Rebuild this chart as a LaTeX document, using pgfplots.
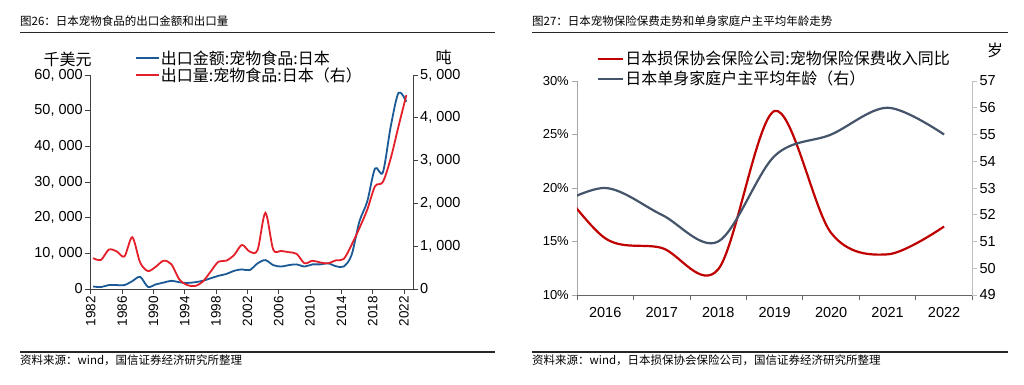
\documentclass[border=0pt]{standalone}
\usepackage{fontspec}
\setmainfont{Liberation Sans}
\newfontfamily\cjk{Noto Sans CJK SC}
\usepackage{pgfplots}
\usepackage{pgfplotstable}
\pgfplotsset{compat=1.18}
\definecolor{lblue}{HTML}{1B5A96}
\definecolor{lred}{HTML}{E3202A}
\definecolor{rred}{HTML}{C00000}
\definecolor{rgray}{HTML}{44546A}
\definecolor{laxis}{HTML}{404040}
\newcommand{\fs}[1]{\fontsize{#1}{#1}\selectfont}

\pgfplotstableread{
year amount volume
1982 700 720
1983 550 680
1984 1100 920
1985 1100 880
1986 1100 760
1987 2200 1210
1988 3400 620
1989 600 420
1990 1300 520
1991 1800 661
1992 2300 577
1993 1900 226
1994 1700 93
1995 1900 70
1996 2300 171
1997 3000 405
1998 3700 638
1999 4200 661
2000 5100 794
2001 5500 1030
2002 5300 872
2003 7200 910
2004 8100 1780
2005 6700 920
2006 6300 890
2007 6700 860
2008 6900 820
2009 6300 600
2010 6900 660
2011 6900 620
2012 7200 600
2013 6400 670
2014 6300 700
2015 9500 1030
2016 18900 1420
2017 24500 1850
2018 33800 2400
2019 32700 2500
2020 45500 3050
2021 55000 3800
2022 52500 4530
}\petfood

\pgfplotstableread{
x prem age
-0.5 21.5 52.2
0.5 15.3 53.0
1.5 14.4 52.0
2.5 12.4 51.0
3.5 27.2 54.2
4.5 15.8 55.0
5.5 13.8 56.0
6.5 16.4 55.0
}\insur

\begin{document}
\begin{tikzpicture}[x=1pt,y=1pt]
\useasboundingbox (0,0) rectangle (1024,384);
\fill[white] (0,0) rectangle (1024,384);

% ---------- headers and footers
\node[anchor=west,inner sep=0] at (20,362.5) {\cjk\fs{11.5}图26：日本宠物食品的出口金额和出口量};
\draw[line width=1.2pt, black!85] (20,351.5) -- (495,351.5);
\draw[line width=1.2pt, black!85] (20,32) -- (495,32);
\node[anchor=west,inner sep=0] at (20,24) {\cjk\fs{11.5}资料来源：wind，国信证券经济研究所整理};

\node[anchor=west,inner sep=0] at (532,362.5) {\cjk\fs{11.5}图27：日本宠物保险保费走势和单身家庭户主平均年龄走势};
\draw[line width=1.2pt, black!85] (532,351.5) -- (1008,351.5);
\draw[line width=1.2pt, black!85] (532,32) -- (1008,32);
\node[anchor=west,inner sep=0] at (532,24) {\cjk\fs{11.5}资料来源：wind，日本损保协会保险公司，国信证券经济研究所整理};

% unit labels
\node[inner sep=0] at (67.5,325) {\cjk\fs{16}千美元};
\node[inner sep=0] at (443.5,327) {\cjk\fs{16}吨};
\node[inner sep=0] at (995,334) {\cjk\fs{16}岁};

\pgfplotsset{
  common/.style={
    scale only axis, anchor=south west,
    /pgf/number format/assume math mode=true,
    /pgf/number format/1000 sep={},
    scaled x ticks=false, scaled y ticks=false,
    tick align=outside, major tick length=5pt,
    clip=true,
  }
}

% ---------- left panel, left axis
\begin{axis}[common,
  at={(90pt,95pt)}, width=323pt, height=214pt,
  xmin=1981.9, xmax=2023.15, ymin=0, ymax=60000,
  axis x line*=bottom, axis y line*=left,
  axis line style={-, draw=laxis, line width=0.9pt},
  tick style={draw=laxis, line width=0.9pt},
  xtick={1982,1986,...,2022}, xtick pos=left, ytick pos=left,
  xticklabel style={rotate=90, anchor=east, font=\fs{13.5}, inner sep=2pt},
  ytick={0,10000,...,60000},
  yticklabels={0,{10, 000},{20, 000},{30, 000},{40, 000},{50, 000},{60, 000}},
  yticklabel style={font=\fs{14.5}, inner sep=2pt},
]
\addplot[lblue, line width=1.8pt, smooth, tension=0.5] table[x expr=\thisrow{year}+0.3, y=amount] {\petfood};
\end{axis}

% ---------- left panel, right axis
\begin{axis}[common,
  at={(90pt,95pt)}, width=323pt, height=214pt,
  xmin=1981.9, xmax=2023.15, ymin=0, ymax=5000,
  axis x line=none, axis y line*=right,
  axis line style={-, draw=laxis, line width=0.9pt},
  tick style={draw=laxis, line width=0.9pt},
  ytick pos=right, yticklabel pos=right,
  ytick={0,1000,...,5000},
  yticklabels={0,{1, 000},{2, 000},{3, 000},{4, 000},{5, 000}},
  yticklabel style={font=\fs{14.5}, inner sep=2pt},
  legend style={at={(axis description cs:0.139,1.12)}, anchor=north west,
    draw=none, fill=none, inner sep=0pt, row sep=0pt,
    font=\cjk\fs{16}, nodes={inner sep=1pt}},
  legend cell align=left,
  legend image code/.code={\draw[#1] (0pt,0pt) -- (23pt,0pt);},
]
\addlegendimage{lblue, line width=1.8pt}
\addlegendentry{出口金额:宠物食品:日本}
\addplot[lred, line width=1.8pt, smooth, tension=0.5] table[x expr=\thisrow{year}+0.3, y=volume] {\petfood};
\addlegendentry{出口量:宠物食品:日本（右）}
\end{axis}

% ---------- right panel, left axis
\begin{axis}[common,
  at={(577pt,89pt)}, width=395.3pt, height=214pt,
  xmin=0, xmax=7, ymin=10, ymax=30,
  axis x line*=bottom, axis y line*=left,
  x axis line style={-, draw=black!60, line width=0.9pt},
  y axis line style={-, draw=black!35, line width=0.9pt},
  xtick style={draw=black!60, line width=0.9pt},
  ytick style={draw=black!35, line width=0.9pt},
  xtick={0,1,...,7}, xticklabels={2016,2017,2018,2019,2020,2021,2022,{}},
  xticklabel style={font=\fs{14.5}, anchor=north, xshift=28.24pt, yshift=-4pt},
  xtick pos=left, ytick pos=left,
  ytick={10,15,...,30},
  yticklabels={10\%,15\%,20\%,25\%,30\%},
  yticklabel style={font=\fs{13}, inner sep=3pt},
  legend style={at={(axis description cs:0.0506,1.145)}, anchor=north west,
    draw=none, fill=none, inner sep=0pt, row sep=3pt,
    font=\cjk\fs{16}, nodes={inner sep=1pt}},
  legend cell align=left,
  legend image code/.code={\draw[#1] (0pt,0pt) -- (25pt,0pt);},
]
\addplot[rred, line width=2.2pt, smooth, tension=0.55] table[x=x, y=prem] {\insur};
\addlegendentry{日本损保协会保险公司:宠物保险保费收入同比}
\addlegendimage{rgray, line width=2.2pt}
\addlegendentry{日本单身家庭户主平均年龄（右）}
\end{axis}

% ---------- right panel, right axis
\begin{axis}[common,
  at={(577pt,89pt)}, width=395.3pt, height=214pt,
  xmin=0, xmax=7, ymin=49, ymax=57,
  axis x line=none, axis y line*=right,
  axis line style={-, draw=black!25, line width=0.9pt},
  tick style={draw=black!25, line width=0.9pt},
  ytick pos=right, yticklabel pos=right,
  ytick={49,50,...,57},
  yticklabel style={font=\fs{14.5}, inner sep=2pt},
]
\addplot[rgray, line width=2.2pt, smooth, tension=0.55] table[x=x, y=age] {\insur};
\end{axis}
\end{tikzpicture}
\end{document}
